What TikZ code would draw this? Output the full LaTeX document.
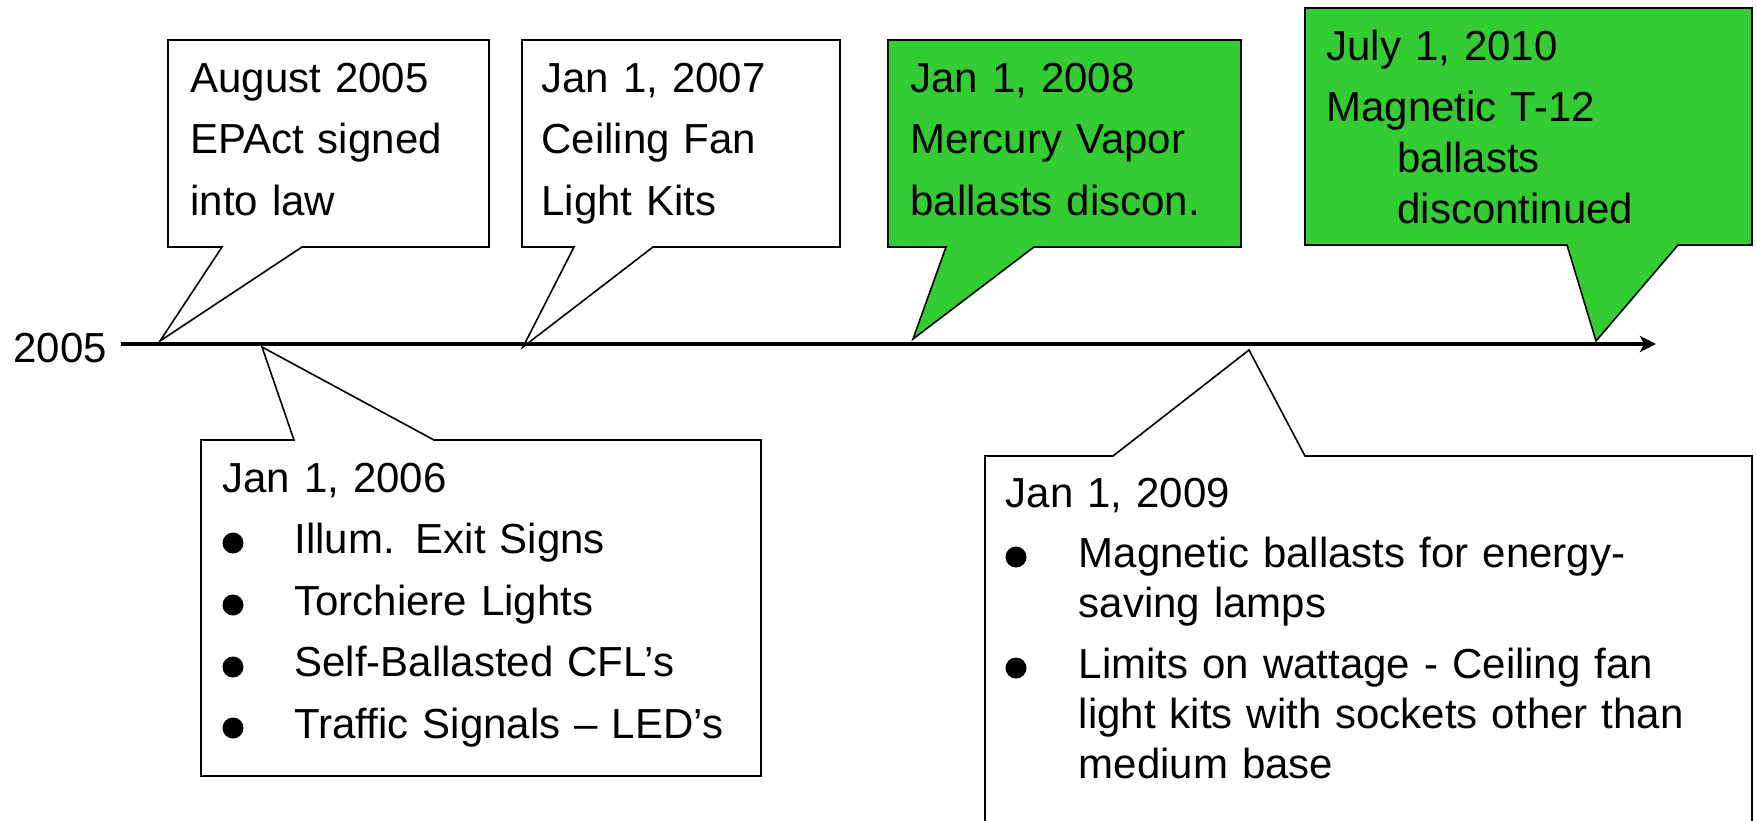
\documentclass[tikz,border=0pt]{standalone}
\usepackage{fontspec}
\setmainfont{Liberation Sans}
\usetikzlibrary{arrows.meta}
\definecolor{callgreen}{RGB}{51,204,51}
\tikzset{
  callout/.style={draw=black, line width=0.8pt, line join=miter, fill=white},
  hotcallout/.style={callout, fill=callgreen},
  note/.style={anchor=base west, inner sep=0pt, align=left, text width=#1,
    font=\fontsize{21}{30.75}\selectfont},
  note/.default=160pt,
  dot/.style={fill=black, circle, inner sep=0pt, minimum size=10.5pt}
}
\begin{document}
\begin{tikzpicture}[x=0.5pt,y=-0.5pt]
                    \useasboundingbox (0,0) rectangle (1756,820);
                    % points on the timeline
                    \coordinate (ts) at (121,344);
                    \coordinate (te) at (1656,344);
                    \coordinate (p1) at (160,341);
                    \coordinate (p2) at (523,347);
                    \coordinate (p3) at (913,339);
                    \coordinate (p4) at (1596,341);
                    \coordinate (p5) at (262,347);
                    \coordinate (p6) at (1249,350);
                    % callouts above the line
                    \draw[callout] (168,40) -- (489,40) -- (489,247) -- (302,247) -- (p1) -- (222,247) -- (168,247) -- cycle;
                    \draw[callout] (522,40) -- (840,40) -- (840,247) -- (653,247) -- (p2) -- (574,247) -- (522,247) -- cycle;
                    \draw[hotcallout] (888,40) -- (1241,40) -- (1241,247) -- (1034,247) -- (p3) -- (946,247) -- (888,247) -- cycle;
                    \draw[hotcallout] (1305,8) -- (1752,8) -- (1752,245) -- (1678,245) -- (p4) -- (1567,245) -- (1305,245) -- cycle;
                    % callouts below the line
                    \draw[callout] (201,440) -- (294,440) -- (p5) -- (434,440) -- (761,440) -- (761,776) -- (201,776) -- cycle;
                    \draw[callout] (985,822) -- (985,456) -- (1113,456) -- (p6) -- (1305,456) -- (1752,456) -- (1752,822);
                    \node[note=140pt] (n1) at (190,92) {August 2005\\EPAct signed\\into law};
                    \node[note=150pt] (n2) at (541,92) {Jan 1, 2007\\Ceiling Fan\\Light Kits};
                    \node[note=160pt] (n3) at (910,92) {Jan 1, 2008\\Mercury Vapor\\ballasts discon.};
                    \node[note=190pt, font=\fontsize{21}{25.5}\selectfont] (n4) at (1326,60)
                      {July 1, 2010\\[5pt]Magnetic T-12\\\hspace*{35.5pt}ballasts\\\hspace*{35.5pt}discontinued};
                    \node[note=260pt] (n5) at (222,492)
                      {Jan 1, 2006\\\hspace*{36pt}Illum. Exit Signs\\\hspace*{36pt}Torchiere Lights\\\hspace*{36pt}Self-Ballasted CFL’s\\\hspace*{36pt}Traffic Signals -- LED’s};
                    \node[note=355pt, font=\fontsize{21}{25}\selectfont] (n6) at (1005.5,507)
                      {Jan 1, 2009\\[5pt]\hspace*{36.5pt}Magnetic ballasts for energy-\\\hspace*{36.5pt}saving lamps\\[5.5pt]\hspace*{36.5pt}Limits on wattage - Ceiling fan\\\hspace*{36.5pt}light kits with sockets other than\\\hspace*{36.5pt}medium base};
                    \foreach \y [count=\i] in {553,615,677,738} \node[dot] (b5\i) at (233,\y-10) {};
                    \foreach \y [count=\i] in {567,678} \node[dot] (b6\i) at (1016,\y-10) {};
                    \node[anchor=base west, inner sep=0pt, font=\fontsize{21}{25}\selectfont] (yr) at (13,362) {2005};
                    \draw[line width=2.4pt, -{Stealth[length=8pt,width=8pt,inset=2pt]}] (ts) -- (te);
                \end{tikzpicture}
\end{document}
